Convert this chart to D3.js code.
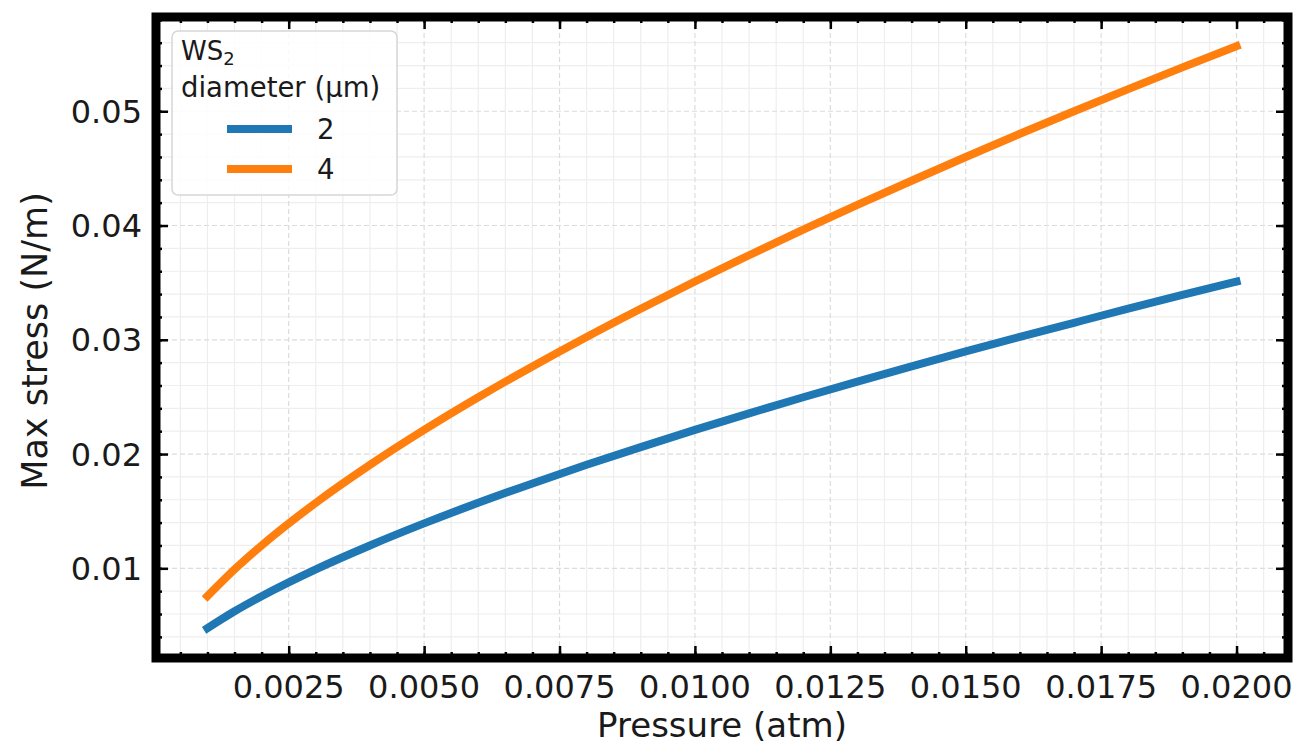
<!DOCTYPE html>
<html>
<head>
<meta charset="utf-8">
<script src="https://cdn.jsdelivr.net/npm/d3@7"></script>
<style>
  html, body { margin: 0; padding: 0; background: #ffffff; }
  svg { display: block; font-family: "DejaVu Sans", sans-serif; }
</style>
</head>
<body>
<svg id="chart" width="1305" height="755"></svg>
<script>
// ---- data ----
const pressure = [0.001, 0.0015, 0.002, 0.003, 0.004, 0.005, 0.006, 0.007, 0.008, 0.009, 0.010,
                  0.011, 0.012, 0.013, 0.014, 0.015, 0.016, 0.017, 0.018, 0.019, 0.020];
const stressD2 = [0.00476, 0.00624, 0.00756, 0.00991, 0.01200, 0.01393, 0.01573, 0.01743, 0.01906, 0.02061, 0.02211,
                  0.02356, 0.02497, 0.02634, 0.02767, 0.02898, 0.03025, 0.03149, 0.03272, 0.03392, 0.03510];
const stressD4 = [0.00756, 0.00990, 0.01200, 0.01573, 0.01905, 0.02211, 0.02497, 0.02767, 0.03025, 0.03272, 0.03510,
                  0.03740, 0.03964, 0.04181, 0.04392, 0.04600, 0.04803, 0.05000, 0.05194, 0.05384, 0.05570];
const seriesNames = ["2", "4"];
const seriesColors = ["#1f77b4", "#ff7f0e"];
const xTicks = [0.0025, 0.0050, 0.0075, 0.0100, 0.0125, 0.0150, 0.0175, 0.0200];
const xTickLabels = ["0.0025", "0.0050", "0.0075", "0.0100", "0.0125", "0.0150", "0.0175", "0.0200"];
const yTicks = [0.01, 0.02, 0.03, 0.04, 0.05];
const yTickLabels = ["0.01", "0.02", "0.03", "0.04", "0.05"];
const xLabel = "Pressure (atm)";
const yLabel = "Max stress (N/m)";
const legendTitle1 = "WS";
const legendTitleSub = "2";
const legendTitle2 = "diameter (µm)";

// ---- layout ----
const svg = d3.select("#chart");
const L = 156, R = 1288, T = 17, B = 658;
const xDomain = [0.00005, 0.02095];
const yDomain = [0.00215, 0.05825];
const x = d3.scaleLinear().domain(xDomain).range([L, R]);
const y = d3.scaleLinear().domain(yDomain).range([B, T]);

const xMinor = d3.range(0, 0.0215, 0.0005).filter(v => v >= xDomain[0] && v <= xDomain[1]);
const yMinor = d3.range(0, 0.06, 0.002).filter(v => v >= yDomain[0] && v <= yDomain[1]);
const isMajor = (v, step) => Math.abs(v / step - Math.round(v / step)) < 1e-6;

// ---- grid ----
const grid = svg.append("g");
grid.selectAll("line.xminor").data(xMinor.filter(v => !isMajor(v, 0.0025))).join("line")
  .attr("x1", d => x(d)).attr("x2", d => x(d)).attr("y1", T).attr("y2", B)
  .attr("stroke", "#eeeeee").attr("stroke-width", 1.2);
grid.selectAll("line.yminor").data(yMinor.filter(v => !isMajor(v, 0.01))).join("line")
  .attr("y1", d => y(d)).attr("y2", d => y(d)).attr("x1", L).attr("x2", R)
  .attr("stroke", "#eeeeee").attr("stroke-width", 1.2);
grid.selectAll("line.xmajor").data(xTicks).join("line")
  .attr("x1", d => x(d)).attr("x2", d => x(d)).attr("y1", T).attr("y2", B)
  .attr("stroke", "#dcdcdc").attr("stroke-width", 1.2).attr("stroke-dasharray", "5,3");
grid.selectAll("line.ymajor").data(yTicks).join("line")
  .attr("y1", d => y(d)).attr("y2", d => y(d)).attr("x1", L).attr("x2", R)
  .attr("stroke", "#dcdcdc").attr("stroke-width", 1.2).attr("stroke-dasharray", "5,3");

// ---- lines ----
const line = d3.line().x(d => x(d[0])).y(d => y(d[1])).curve(d3.curveMonotoneX);
[stressD2, stressD4].forEach((vals, i) => {
  svg.append("path")
    .datum(pressure.map((p, j) => [p, vals[j]]))
    .attr("d", line)
    .attr("fill", "none")
    .attr("stroke", seriesColors[i])
    .attr("stroke-width", 8)
    .attr("stroke-linecap", "square");
});

// ---- ticks (inward, all four sides) via d3 axes ----
const majLen = 12, minLen = 6, tickW = 2.5;
function styleAxis(g) {
  g.select(".domain").remove();
  g.selectAll(".tick line").attr("stroke", "#000").attr("stroke-width", tickW);
  g.selectAll(".tick text").remove();
}
// bottom
svg.append("g").attr("transform", `translate(0,${B})`)
  .call(d3.axisTop(x).tickValues(xMinor).tickSize(minLen)).call(styleAxis);
svg.append("g").attr("transform", `translate(0,${B})`)
  .call(d3.axisTop(x).tickValues(xTicks).tickSize(majLen)).call(styleAxis);
// top
svg.append("g").attr("transform", `translate(0,${T})`)
  .call(d3.axisBottom(x).tickValues(xMinor).tickSize(minLen)).call(styleAxis);
svg.append("g").attr("transform", `translate(0,${T})`)
  .call(d3.axisBottom(x).tickValues(xTicks).tickSize(majLen)).call(styleAxis);
// left
svg.append("g").attr("transform", `translate(${L},0)`)
  .call(d3.axisRight(y).tickValues(yMinor).tickSize(minLen)).call(styleAxis);
svg.append("g").attr("transform", `translate(${L},0)`)
  .call(d3.axisRight(y).tickValues(yTicks).tickSize(majLen)).call(styleAxis);
// right
svg.append("g").attr("transform", `translate(${R},0)`)
  .call(d3.axisLeft(y).tickValues(yMinor).tickSize(minLen)).call(styleAxis);
svg.append("g").attr("transform", `translate(${R},0)`)
  .call(d3.axisLeft(y).tickValues(yTicks).tickSize(majLen)).call(styleAxis);

// ---- frame ----
svg.append("rect").attr("x", L).attr("y", T).attr("width", R - L).attr("height", B - T)
  .attr("fill", "none").attr("stroke", "#000").attr("stroke-width", 9);

// ---- tick labels ----
const textColor = "#1a1a1a";
svg.append("g").selectAll("text").data(xTicks).join("text")
  .attr("x", d => x(d)).attr("y", 698)
  .attr("text-anchor", "middle").attr("font-size", 32).attr("fill", textColor)
  .text((d, i) => xTickLabels[i]);
svg.append("g").selectAll("text").data(yTicks).join("text")
  .attr("x", 142).attr("y", d => y(d)).attr("dy", "0.36em")
  .attr("text-anchor", "end").attr("font-size", 32).attr("fill", textColor)
  .text((d, i) => yTickLabels[i]);

// ---- axis labels ----
svg.append("text").attr("x", (L + R) / 2).attr("y", 737)
  .attr("text-anchor", "middle").attr("font-size", 34).attr("fill", textColor).text(xLabel);
svg.append("text").attr("transform", `translate(47,${341}) rotate(-90)`)
  .attr("text-anchor", "middle").attr("font-size", 35).attr("fill", textColor).text(yLabel);

// ---- legend ----
const lg = svg.append("g");
lg.append("rect").attr("x", 172).attr("y", 31).attr("width", 225).attr("height", 164)
  .attr("rx", 6).attr("fill", "#ffffff").attr("fill-opacity", 0.85)
  .attr("stroke", "#d6d6d6").attr("stroke-width", 1.5);
const t1 = lg.append("text").attr("x", 181).attr("y", 60).attr("font-size", 26).attr("fill", textColor);
t1.append("tspan").text(legendTitle1);
t1.append("tspan").attr("font-size", 18).attr("dy", 5).text(legendTitleSub);
lg.append("text").attr("x", 181).attr("y", 97).attr("font-size", 27.5).attr("fill", textColor).text(legendTitle2);
seriesNames.forEach((name, i) => {
  const yy = 129 + i * 40;
  lg.append("line").attr("x1", 227).attr("x2", 292).attr("y1", yy).attr("y2", yy)
    .attr("stroke", seriesColors[i]).attr("stroke-width", 8);
  lg.append("text").attr("x", 317).attr("y", yy).attr("dy", "0.36em")
    .attr("font-size", 27.5).attr("fill", textColor).text(name);
});
</script>
</body>
</html>
